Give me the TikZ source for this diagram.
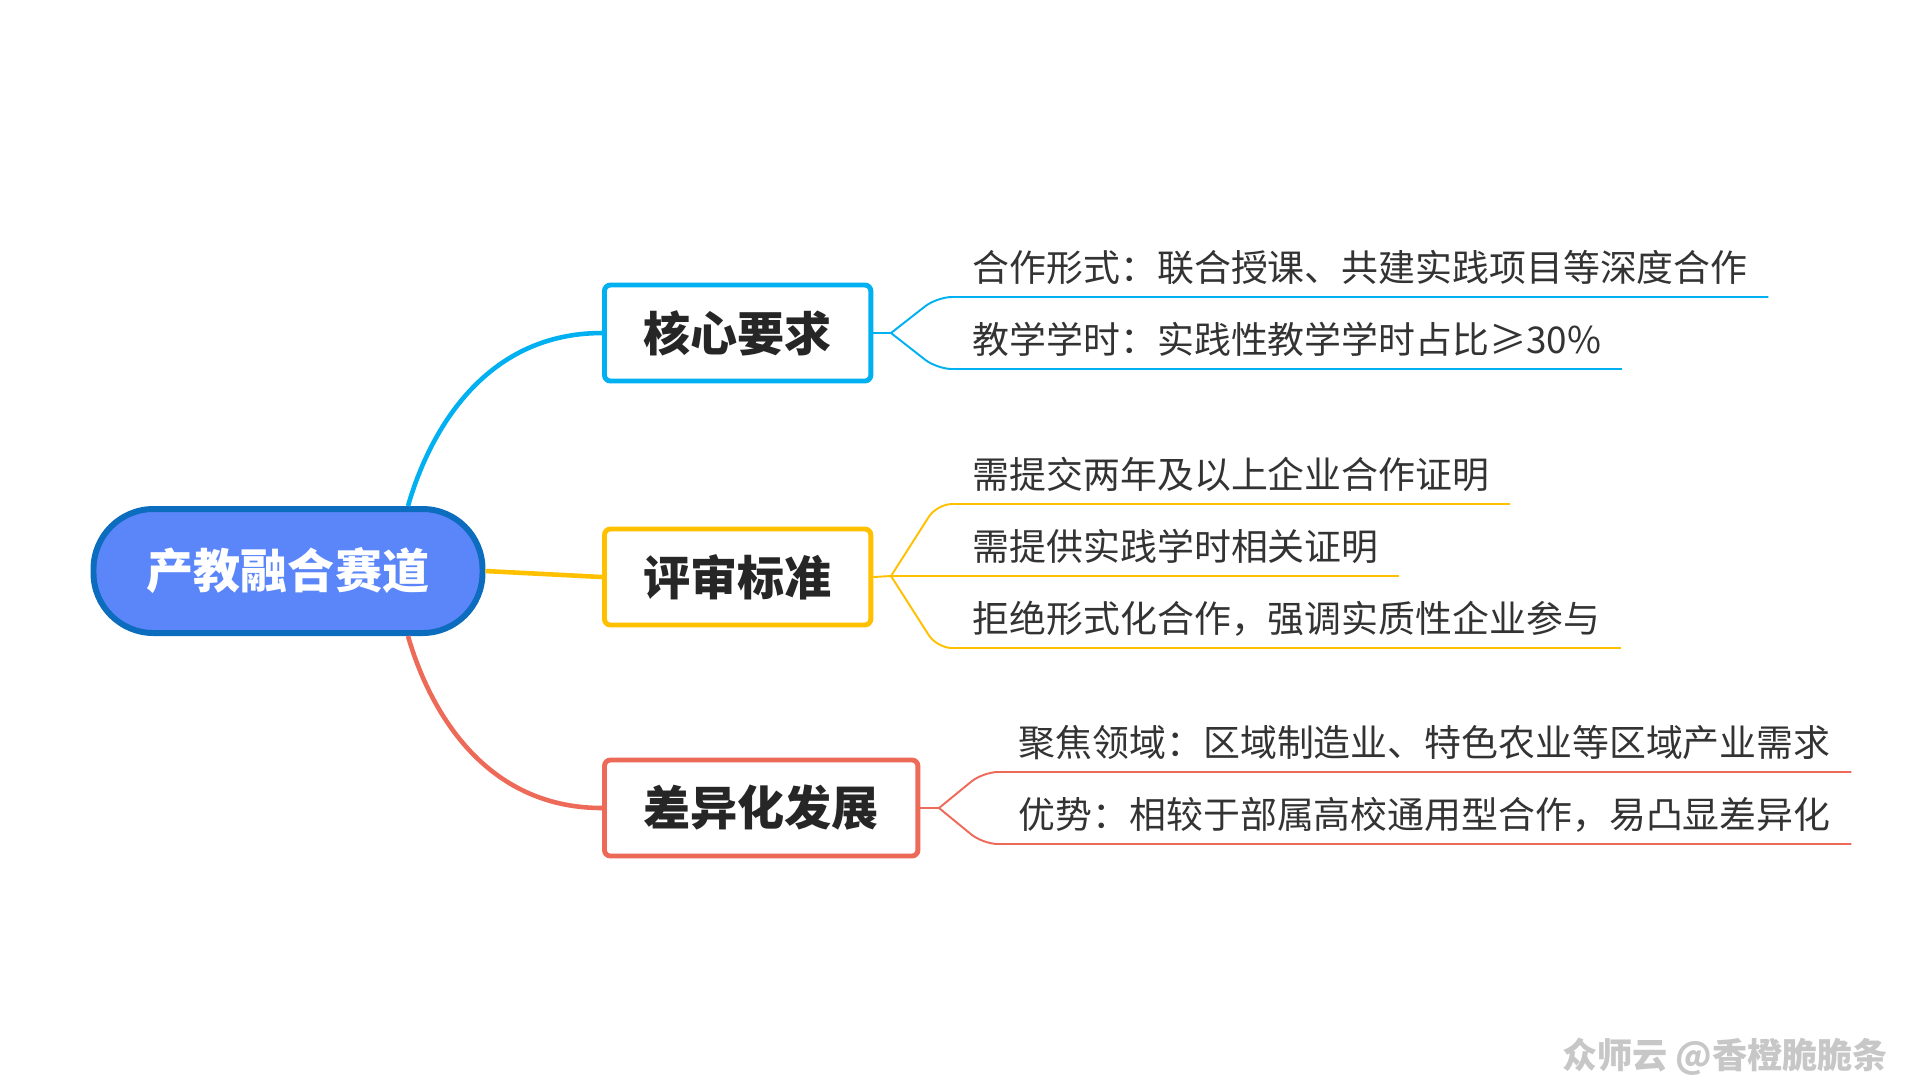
\documentclass[tikz,border=0pt]{standalone}
\usepackage{fontspec}
\setmainfont{Noto Sans CJK SC}
\definecolor{rootfill}{RGB}{91,134,250}
\definecolor{rootedge}{RGB}{12,108,190}
\definecolor{coreblue}{RGB}{0,176,240}
\definecolor{critgold}{RGB}{255,192,0}
\definecolor{diffred}{RGB}{238,106,88}
\definecolor{inkgray}{RGB}{38,38,38}
\definecolor{leafgray}{RGB}{51,51,51}
\tikzset{
  rootnode/.style={draw=rootedge, fill=rootfill, line width=1.7pt, rounded corners=6mm,
    minimum width=38.9mm, minimum height=12.4mm, text=white,
    font=\fontsize{13.4}{16}\selectfont\bfseries},
  topicbox/.style={draw=#1, fill=white, line width=1.4pt, rounded corners=0.6mm,
    minimum height=9.6mm, inner xsep=3.9mm, anchor=west, text=inkgray,
    font=\fontsize{13.4}{16}\selectfont\bfseries},
  leaf/.style={anchor=south west, inner xsep=2mm, inner ysep=1mm, text height=3.2mm,
    text depth=0.5mm, text=leafgray, font=\fontsize{10.5}{12}\selectfont},
  branch/.style={line width=1.3pt, draw=#1},
  twig/.style={line width=0.55pt, draw=#1, rounded corners=1.5mm}
}

\begin{document}
\begin{tikzpicture}[x=0.1mm, y=-0.1mm]
  \useasboundingbox (0,0) rectangle (1920,1080);

  \node[rootnode] (root) at (288,571) {产教融合赛道};

  \node[topicbox=coreblue] (core) at (602,333) {核心要求};
  \node[topicbox=critgold] (crit) at (602,577) {评审标准};
  \node[topicbox=diffred] (diff) at (602,808) {差异化发展};

  \draw[branch=coreblue] ([xshift=12mm]root.north) .. controls +(20,-70) and +(-120,0) .. (core.west);
  \draw[branch=critgold] (root.east) -- (crit.west);
  \draw[branch=diffred] ([xshift=12mm]root.south) .. controls +(20,70) and +(-120,0) .. (diff.west);

  \coordinate (corefork) at (891,333);
  \coordinate (critfork) at (891,576);
  \coordinate (difffork) at (939,808);

  \node[leaf] (core1) at (952,297) {合作形式：联合授课、共建实践项目等深度合作};
  \node[leaf] (core2) at (952,369) {教学学时：实践性教学学时占比≥30\%};
  \node[leaf] (crit1) at (952,504) {需提交两年及以上企业合作证明};
  \node[leaf] (crit2) at (952,576) {需提供实践学时相关证明};
  \node[leaf] (crit3) at (952,648) {拒绝形式化合作，强调实质性企业参与};
  \node[leaf] (diff1) at (998,772) {聚焦领域：区域制造业、特色农业等区域产业需求};
  \node[leaf] (diff2) at (998,844) {优势：相较于部属高校通用型合作，易凸显差异化};

  \draw[twig=coreblue] (core.east) -- (corefork);
  \draw[twig=coreblue] (corefork) -- ([xshift=-1.5mm]core1.south west) -- (core1.south east);
  \draw[twig=coreblue] (corefork) -- ([xshift=-1.5mm]core2.south west) -- (core2.south east);

  \draw[twig=critgold] (crit.east) -- (critfork);
  \draw[twig=critgold] (critfork) -- ([xshift=-1.5mm]crit1.south west) -- (crit1.south east);
  \draw[twig=critgold] (critfork) -- (crit2.south east);
  \draw[twig=critgold] (critfork) -- ([xshift=-1.5mm]crit3.south west) -- (crit3.south east);

  \draw[twig=diffred] (diff.east) -- (difffork);
  \draw[twig=diffred] (difffork) -- ([xshift=-1.5mm]diff1.south west) -- (diff1.south east);
  \draw[twig=diffred] (difffork) -- ([xshift=-1.5mm]diff2.south west) -- (diff2.south east);

  \node[text=black!22, font=\fontsize{10}{12}\selectfont\bfseries] (mark) at (1725,1057) {众师云 @香橙脆脆条};
\end{tikzpicture}
\end{document}
